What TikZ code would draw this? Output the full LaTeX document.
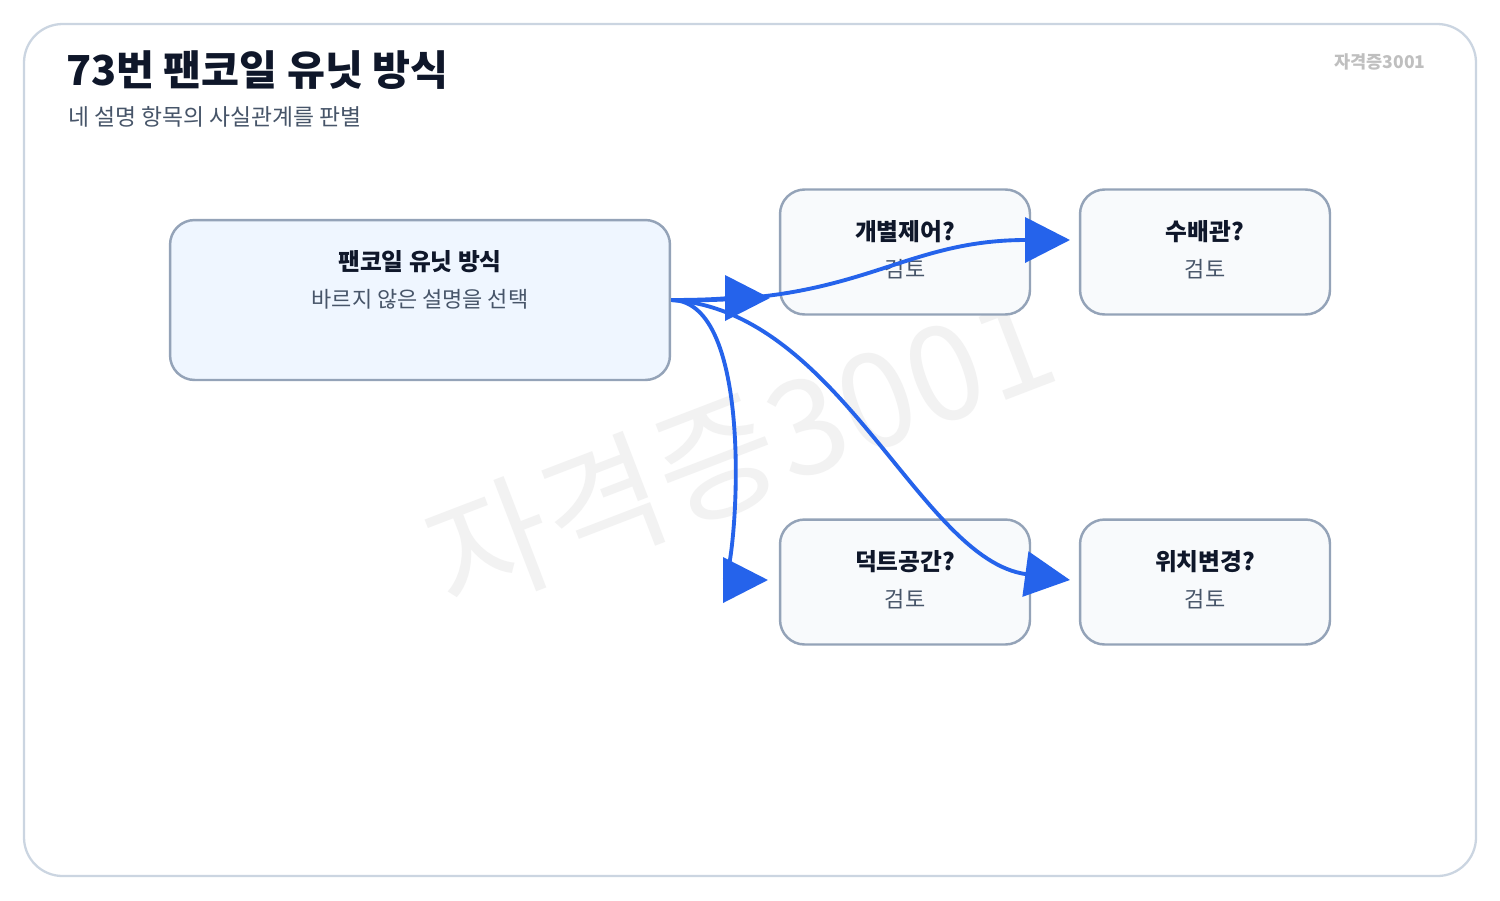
\documentclass[tikz,border=0pt]{standalone}
\usepackage{fontspec}
\setmainfont{Noto Sans CJK KR}
\usetikzlibrary{arrows.meta,positioning}
\definecolor{edgegray}{HTML}{94A3B8}
\definecolor{framegray}{HTML}{CBD5E1}
\definecolor{mainfill}{HTML}{EFF6FF}
\definecolor{boxfill}{HTML}{F8FAFC}
\definecolor{linkblue}{HTML}{2563EB}
\definecolor{titleink}{HTML}{0F172A}
\definecolor{subink}{HTML}{475569}
\begin{document}
\begin{tikzpicture}[
    x=0.02cm, y=-0.02cm,
    mainbox/.style={rectangle, rounded corners=14pt, draw=edgegray, line width=1.4pt, fill=mainfill, minimum width=10cm, minimum height=3.2cm},
    checkbox/.style={rectangle, rounded corners=14pt, draw=edgegray, line width=1.4pt, fill=boxfill, minimum width=5cm, minimum height=2.5cm},
    boxtitle/.style={font=\bfseries\fontsize{13.5}{16}\selectfont, text=titleink},
    boxnote/.style={font=\fontsize{12.5}{14}\selectfont, text=subink},
    link/.style={-{Triangle[length=0.9cm,width=0.9cm]}, linkblue, line width=2.2pt}
]
    \useasboundingbox (0,0) rectangle (1500,900);
    % Frame
    \draw[framegray, line width=1.3pt, rounded corners=22pt, fill=white] (24,24) rectangle (1476,876);

    % Watermarks
    \node[font=\fontsize{75}{80}\selectfont, text=black!5, rotate=21] (mark) at (740,450) {자격증3001};
    \node[font=\bfseries\fontsize{10}{12}\selectfont, text=black!25] (corner) at (1380,62) {자격증3001};

    % Title
    \node[anchor=west, font=\bfseries\fontsize{23.5}{26}\selectfont, text=titleink] (title) at (60,70) {73번 팬코일 유닛 방식};
    \node[anchor=west, font=\fontsize{13}{15}\selectfont, text=subink] (subtitle) at (62,117) {네 설명 항목의 사실관계를 판별};

    % Boxes
    \node[mainbox] (fcu) at (420,300) {};
    \node[boxtitle] at (420,262) {팬코일 유닛 방식};
    \node[boxnote] at (420,299) {바르지 않은 설명을 선택};

    \node[checkbox] (ctrl) at (905,252) {};
    \node[checkbox] (pipe) at (1205,252) {};
    \node[checkbox] (duct) at (905,582) {};
    \node[checkbox] (move) at (1205,582) {};
    \foreach \n/\t in {ctrl/개별제어?, pipe/수배관?, duct/덕트공간?, move/위치변경?} {
        \node[boxtitle] at ([yshift=0.4cm]\n.center) {\t};
        \node[boxnote] at ([yshift=-0.34cm]\n.center) {검토};
    }

    % Links
    \coordinate (src) at (fcu.east);
    \coordinate (ctrlin) at (770,298);
    \coordinate (pipein) at (1070,240);
    \coordinate (ductin) at (768,580);
    \coordinate (movein) at (1070,580);
    \draw[link] (src) to[out=0, in=180] (ctrlin);
    \draw[link] (src) .. controls (860,305) and (900,240) .. (pipein);
    \draw[link] (src) .. controls (760,300) and (735,580) .. (ductin);
    \draw[link] (src) .. controls (840,310) and (920,560) .. (movein);
\end{tikzpicture}
\end{document}
